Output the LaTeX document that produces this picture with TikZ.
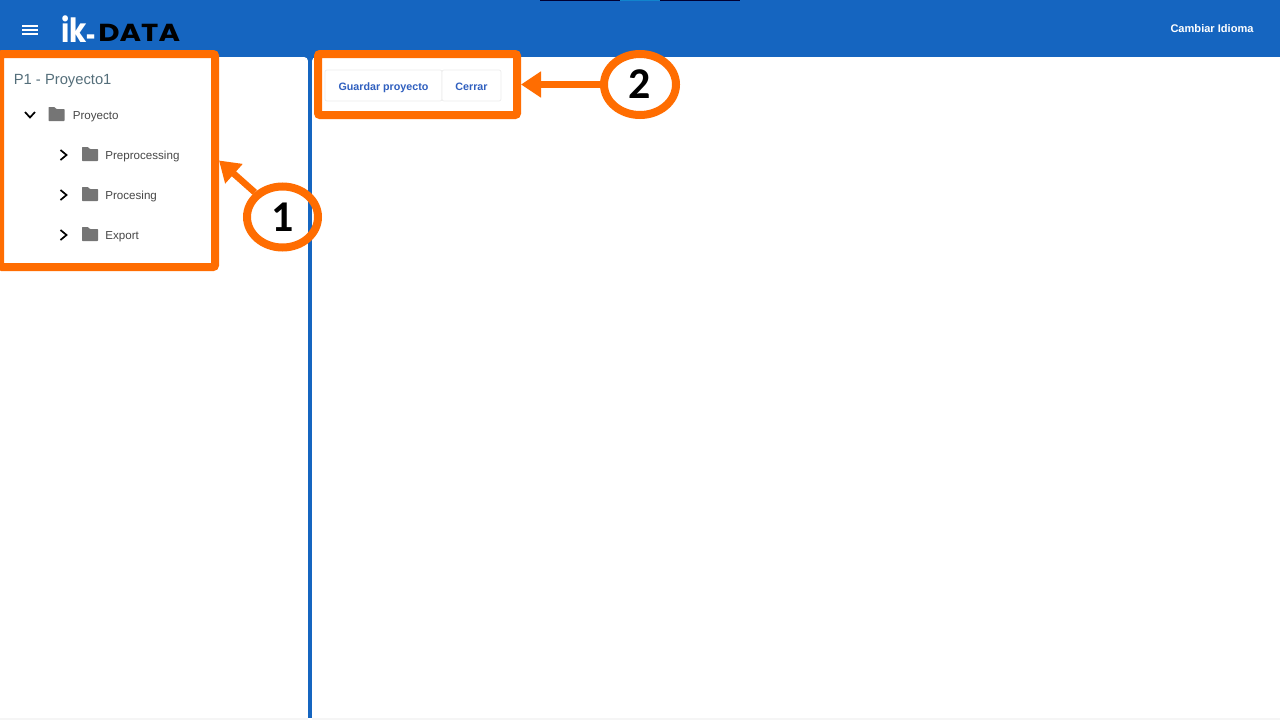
\documentclass[tikz,border=0pt]{standalone}
\usepackage{fontspec}
\setmainfont{Liberation Sans}
\newfontfamily\logofont{Poppins}
\newfontfamily\markfont{Carlito}
\usetikzlibrary{shapes.geometric,arrows.meta}
\definecolor{barblue}{HTML}{1565C0}
\definecolor{markorange}{HTML}{FF6D01}
\definecolor{btnblue}{HTML}{2F5FBF}
\definecolor{titlegray}{HTML}{546E7A}
\definecolor{treegray}{HTML}{474747}
\definecolor{foldergray}{HTML}{757575}
\def\px{0.02cm}
\tikzset{
    markbox/.style={draw=markorange, line width=8*\px, rounded corners=2*\px, inner sep=0pt},
    markcircle/.style={ellipse, draw=markorange, line width=8*\px, inner sep=0pt, font=\markfont\bfseries\fontsize{25pt}{25pt}\selectfont},
    markarrow/.style={draw=markorange, line width=6.5*\px, -{Triangle[length=20*\px, width=25*\px]}},
    btn/.style={draw=black!7, fill=white, rounded corners=2*\px, inner sep=0pt, minimum height=31*\px, text height=5.2pt, text depth=0pt, text=btnblue, font=\bfseries\fontsize{6.1pt}{8pt}\selectfont},
    treelabel/.style={anchor=west, inner sep=0pt, text height=5pt, text depth=1.4pt, text=treegray, font=\fontsize{6.6pt}{8pt}\selectfont},
    chevron/.style={draw=black, line width=1.7*\px},
    folder/.pic={
        \fill[foldergray, rounded corners=0.6*\px] (-8,7) -- (-8,-7) -- (-2,-7) -- (0,-5) -- (8,-5) -- (8,7) -- cycle;
    }
}
\begin{document}
\begin{tikzpicture}[x=\px, y=-\px]
    \useasboundingbox (0,0) rectangle (1280,720);
    % header and panels
    \fill[barblue] (0,0) rectangle (1280,62);
    \fill[white, rounded corners=4*\px] (0,57) rectangle (308,730);
    \fill[barblue] (308,57) rectangle (312,718);
    \fill[white, rounded corners=4*\px] (312,57) rectangle (1290,730);
    \fill[black!4] (0,718) rectangle (1280,720);
    \fill[white] (308,718) rectangle (312,720);
    \fill[black!80!blue] (540,0) rectangle (740,1);
    \fill[barblue!80!cyan] (620,0) rectangle (660,1.2);

    % menu icon and logo
    \foreach \y in {25.7,30,34.3}
        \draw[white, line width=2*\px] (22.3,\y) -- (37.7,\y);
    \node[inner sep=0pt, anchor=base west, text=white, font=\logofont\bfseries\fontsize{19pt}{19pt}\selectfont] (logoik) at (61,42) {\scalebox{0.84}[1]{ik}\raisebox{-3pt}{\scalebox{0.5}[0.9]{-}}};
    \node[inner sep=0pt, anchor=base west, text=black, font=\logofont\bfseries\fontsize{14pt}{14pt}\selectfont] (logodata) at (98,41.5) {\scalebox{1.19}[1]{DATA}};
    \node[inner sep=0pt, text=white, font=\bfseries\fontsize{6.3pt}{8pt}\selectfont] (idioma) at (1212,29) {Cambiar Idioma};

    % project tree
    \node[inner sep=0pt, anchor=west, text=titlegray, font=\fontsize{8.4pt}{10pt}\selectfont] (title) at (13.5,80.5) {P1 - Proyecto1};
    \draw[chevron] (25,112) -- (30,117.5) -- (35,112);
    \pic at (56.5,114) {folder};
    \node[treelabel] (root) at (72.5,116) {Proyecto};
    \foreach \y/\lab in {155/Preprocessing,195/Procesing,235/Export}{
        \draw[chevron] (60.5,\y-5) -- (66.5,\y) -- (60.5,\y+5);
        \pic at (90,\y-1) {folder};
        \node[treelabel] (\lab) at (105,\y+1) {\lab};
    }

    % buttons
    \node[btn, minimum width=117*\px] (guardar) at (383.5,85.5) {Guardar proyecto};
    \node[btn, minimum width=59*\px] (cerrar) at (471.5,85.5) {Cerrar};

    % marks
    \node[markbox, minimum width=215*\px, minimum height=213*\px] (box1) at (107.5,160.5) {};
    \node[markbox, minimum width=199*\px, minimum height=61*\px] (box2) at (417.5,84.5) {};
    \node[markcircle, minimum width=71*\px, minimum height=61*\px] (mark1) at (282.5,217) {1};
    \node[markcircle, minimum width=72*\px, minimum height=61*\px] (mark2) at (640,84.5) {2};
    \draw[markarrow] (mark1) -- (box1.east);
    \draw[markarrow] (mark2) -- (box2.east);
\end{tikzpicture}
\end{document}
